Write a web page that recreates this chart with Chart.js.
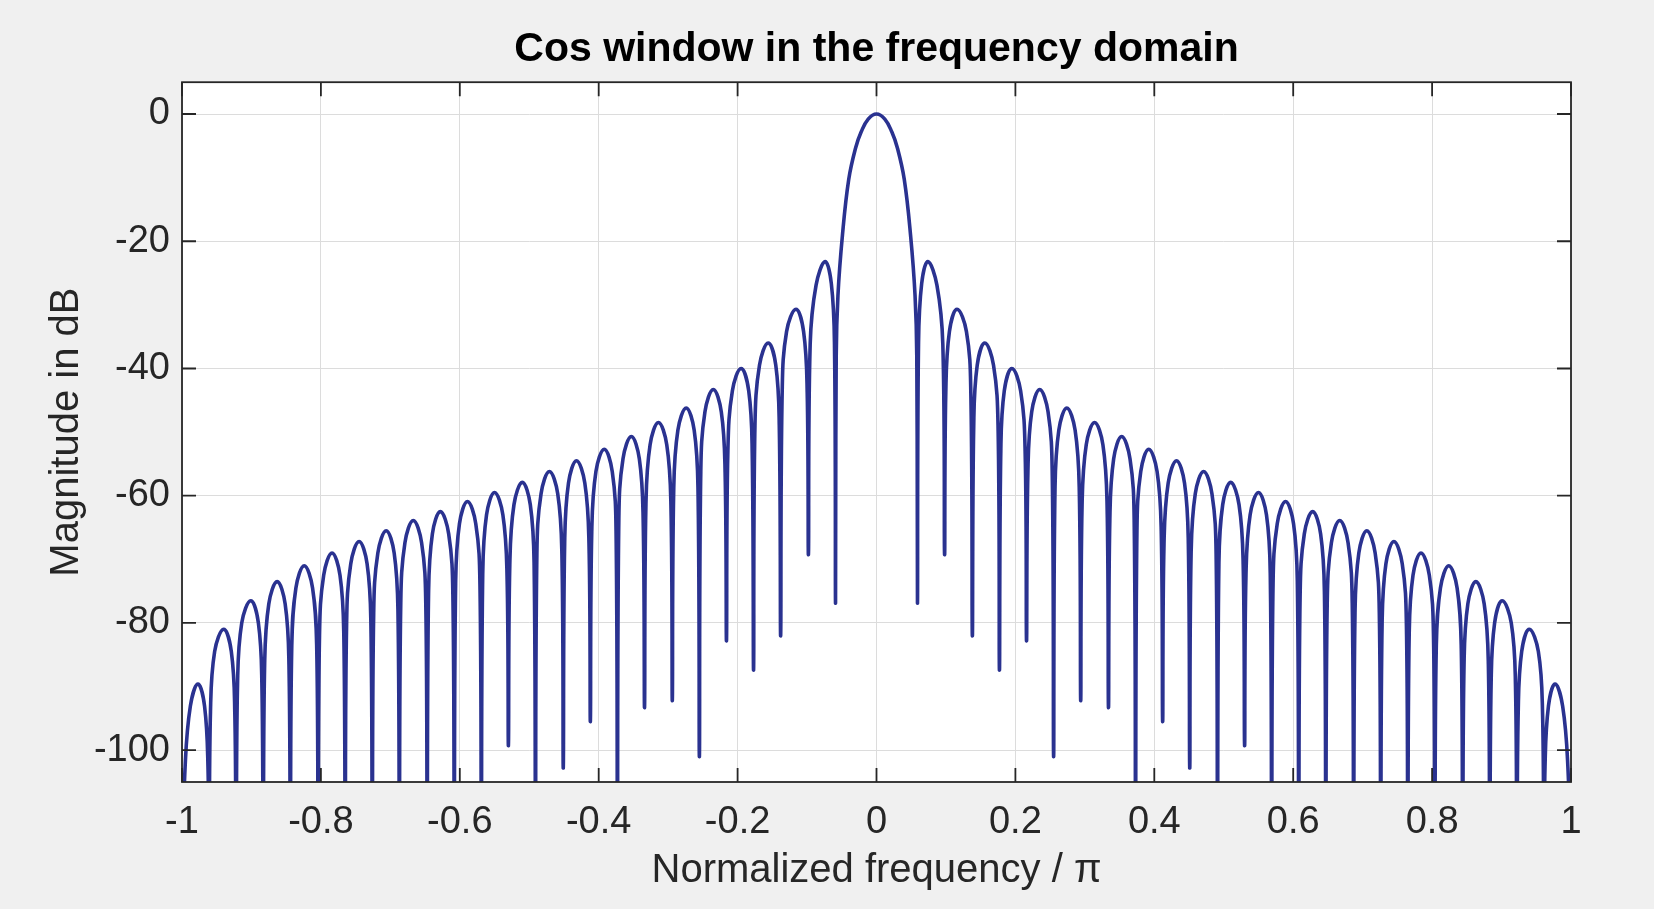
<!DOCTYPE html>
<html>
<head>
<meta charset="utf-8">
<title>Cos window in the frequency domain</title>
<script src="https://cdn.jsdelivr.net/npm/chart.js@4/dist/chart.umd.min.js"></script>
<style>
  html, body { margin: 0; padding: 0; background: #f0f0f0; }
  #wrap { width: 1654px; height: 909px; }
  canvas { display: block; }
</style>
</head>
<body>
<div id="wrap"><canvas id="chart" width="1654" height="909"></canvas></div>
<script>
// --- data (normalized frequency / pi, magnitude in dB) ---
// left half, from -1 up to the main lobe
const freqNeg = [
  -1.0, -0.9955, -0.988, -0.977, -0.9675, -0.9626,
  -0.961, -0.959, -0.953, -0.940, -0.929, -0.924,
  -0.922, -0.920, -0.914, -0.901, -0.890, -0.885,
  -0.883, -0.881, -0.875, -0.863, -0.8515, -0.846,
  -0.844, -0.842, -0.836, -0.824, -0.812, -0.806,
  -0.804, -0.802, -0.796, -0.784, -0.7725, -0.767,
  -0.765, -0.763, -0.757, -0.745, -0.7335, -0.728,
  -0.726, -0.724, -0.718, -0.706, -0.6945, -0.689,
  -0.687, -0.685, -0.679, -0.667, -0.655, -0.649,
  -0.647, -0.645, -0.6395, -0.628, -0.616, -0.610,
  -0.608, -0.606, -0.6005, -0.589, -0.577, -0.571,
  -0.569, -0.567, -0.5615, -0.550, -0.538, -0.532,
  -0.530, -0.528, -0.522, -0.510, -0.4985, -0.493,
  -0.491, -0.489, -0.483, -0.471, -0.459, -0.453,
  -0.451, -0.449, -0.4435, -0.432, -0.420, -0.414,
  -0.412, -0.410, -0.404, -0.392, -0.3805, -0.375,
  -0.373, -0.371, -0.365, -0.353, -0.3415, -0.336,
  -0.334, -0.332, -0.326, -0.314, -0.302, -0.296,
  -0.294, -0.292, -0.286, -0.274, -0.2625, -0.257,
  -0.255, -0.253, -0.247, -0.235, -0.2235, -0.218,
  -0.216, -0.214, -0.2075, -0.195, -0.184, -0.179,
  -0.177, -0.175, -0.1685, -0.156, -0.145, -0.140,
  -0.138, -0.1358, -0.1295, -0.116, -0.105, -0.0998,
  -0.098, -0.0955, -0.087, -0.074, -0.065, -0.0605,
  -0.059, -0.058, -0.0555, -0.049, -0.040, -0.030, -0.022, -0.012
];
const magNeg = [
  -120, -102.6, -93.1, -89.6, -93.1, -102.6,
  -120, -94.0, -84.5, -81.0, -84.5, -94.0,
  -120, -89.5, -80.0, -76.5, -80.0, -89.5,
  -120, -86.5, -77.0, -73.5, -77.0, -86.5,
  -120, -84.0, -74.5, -71.0, -74.5, -84.0,
  -120, -82.0, -72.5, -69.0, -72.5, -82.0,
  -120, -80.2, -70.7, -67.2, -70.7, -80.2,
  -120, -78.5, -69.0, -65.5, -69.0, -78.5,
  -120, -76.9, -67.4, -63.9, -67.4, -76.9,
  -120, -75.5, -66.0, -62.5, -66.0, -75.5,
  -120, -73.9, -64.4, -60.9, -64.4, -73.9,
  -120, -72.5, -63.0, -59.5, -63.0, -72.5,
  -99.3, -70.9, -61.4, -57.9, -61.4, -70.9,
  -120, -69.2, -59.7, -56.2, -59.7, -69.2,
  -102.8, -67.5, -58.0, -54.5, -58.0, -67.5,
  -95.5, -65.7, -56.2, -52.7, -56.2, -65.7,
  -120, -63.7, -54.2, -50.7, -54.2, -63.7,
  -93.3, -61.5, -52.0, -48.5, -52.0, -61.5,
  -92.2, -59.2, -49.7, -46.2, -49.7, -59.2,
  -101.0, -56.3, -46.8, -43.3, -46.8, -56.3,
  -82.8, -53.0, -43.5, -40.0, -43.5, -53.0,
  -87.4, -49.0, -39.5, -36.0, -39.5, -49.0,
  -82.0, -43.7, -34.2, -30.7, -34.2, -43.7,
  -69.2, -36.2, -26.9, -23.2, -26.7, -36.2,
  -76.9, -38.0, -28.5, -19.0, -10.3, -5.3, -2.8, -0.8
];
// right half, from the main lobe peak out to +1
const freqPos = [
  0.0, 0.012, 0.022, 0.030, 0.040, 0.049, 0.0555, 0.058,
  0.059, 0.0605, 0.065, 0.074, 0.087, 0.0955,
  0.098, 0.0998, 0.105, 0.116, 0.1295, 0.1358,
  0.138, 0.140, 0.145, 0.156, 0.1685, 0.175,
  0.177, 0.179, 0.184, 0.195, 0.2075, 0.214,
  0.216, 0.218, 0.2235, 0.235, 0.247, 0.253,
  0.255, 0.257, 0.2625, 0.274, 0.286, 0.292,
  0.294, 0.296, 0.302, 0.314, 0.326, 0.332,
  0.334, 0.336, 0.3415, 0.353, 0.365, 0.371,
  0.373, 0.375, 0.3805, 0.392, 0.404, 0.410,
  0.412, 0.414, 0.420, 0.432, 0.4435, 0.449,
  0.451, 0.453, 0.459, 0.471, 0.483, 0.489,
  0.491, 0.493, 0.4985, 0.510, 0.522, 0.528,
  0.530, 0.532, 0.538, 0.550, 0.5615, 0.567,
  0.569, 0.571, 0.577, 0.589, 0.6005, 0.606,
  0.608, 0.610, 0.616, 0.628, 0.6395, 0.645,
  0.647, 0.649, 0.655, 0.667, 0.679, 0.685,
  0.687, 0.689, 0.6945, 0.706, 0.718, 0.724,
  0.726, 0.728, 0.7335, 0.745, 0.757, 0.763,
  0.765, 0.767, 0.7725, 0.784, 0.796, 0.802,
  0.804, 0.806, 0.812, 0.824, 0.836, 0.842,
  0.844, 0.846, 0.8515, 0.863, 0.875, 0.881,
  0.883, 0.885, 0.890, 0.901, 0.914, 0.920,
  0.922, 0.924, 0.929, 0.940, 0.953, 0.959,
  0.961, 0.9626, 0.9675, 0.977, 0.988, 0.9955,
  1.0
];
const magPos = [
  0.0, -0.8, -2.8, -5.3, -10.3, -19.0, -28.5, -38.0,
  -76.9, -36.2, -26.7, -23.2, -26.9, -36.2,
  -69.2, -43.7, -34.2, -30.7, -34.2, -43.7,
  -82.0, -49.0, -39.5, -36.0, -39.5, -49.0,
  -87.4, -53.0, -43.5, -40.0, -43.5, -53.0,
  -82.8, -56.3, -46.8, -43.3, -46.8, -56.3,
  -101.0, -59.2, -49.7, -46.2, -49.7, -59.2,
  -92.2, -61.5, -52.0, -48.5, -52.0, -61.5,
  -93.3, -63.7, -54.2, -50.7, -54.2, -63.7,
  -120, -65.7, -56.2, -52.7, -56.2, -65.7,
  -95.5, -67.5, -58.0, -54.5, -58.0, -67.5,
  -102.8, -69.2, -59.7, -56.2, -59.7, -69.2,
  -120, -70.9, -61.4, -57.9, -61.4, -70.9,
  -99.3, -72.5, -63.0, -59.5, -63.0, -72.5,
  -120, -73.9, -64.4, -60.9, -64.4, -73.9,
  -120, -75.5, -66.0, -62.5, -66.0, -75.5,
  -120, -76.9, -67.4, -63.9, -67.4, -76.9,
  -120, -78.5, -69.0, -65.5, -69.0, -78.5,
  -120, -80.2, -70.7, -67.2, -70.7, -80.2,
  -120, -82.0, -72.5, -69.0, -72.5, -82.0,
  -120, -84.0, -74.5, -71.0, -74.5, -84.0,
  -120, -86.5, -77.0, -73.5, -77.0, -86.5,
  -120, -89.5, -80.0, -76.5, -80.0, -89.5,
  -120, -94.0, -84.5, -81.0, -84.5, -94.0,
  -120, -102.6, -93.1, -89.6, -93.1, -102.6,
  -120
];

const xTickValues = [-1, -0.8, -0.6, -0.4, -0.2, 0, 0.2, 0.4, 0.6, 0.8, 1];
const xTickLabels = ['-1', '-0.8', '-0.6', '-0.4', '-0.2', '0', '0.2', '0.4', '0.6', '0.8', '1'];
const yTickValues = [-100, -80, -60, -40, -20, 0];
const yTickLabels = ['-100', '-80', '-60', '-40', '-20', '0'];

// --- styling ---
const FONT = "'Liberation Sans', Arial, Helvetica, sans-serif";
const TEXT_COLOR = '#262626';
const LINE_COLOR = '#2a3290';
const TICK_LEN = 14;

const magAll = magNeg.concat(magPos);
const points = freqNeg.concat(freqPos).map((f, i) => ({ x: f, y: magAll[i] }));

// white axes box, dark frame and inward ticks (MATLAB look)
const framePlugin = {
  id: 'frame',
  beforeDraw(chart) {
    const { ctx, chartArea: a } = chart;
    ctx.save();
    ctx.fillStyle = '#ffffff';
    ctx.fillRect(a.left, a.top, a.right - a.left, a.bottom - a.top);
    ctx.restore();
  },
  afterDraw(chart) {
    const { ctx, chartArea: a, scales } = chart;
    ctx.save();
    ctx.strokeStyle = TEXT_COLOR;
    ctx.lineWidth = 1.8;
    ctx.beginPath();
    xTickValues.forEach(v => {
      const px = scales.x.getPixelForValue(v);
      ctx.moveTo(px, a.bottom); ctx.lineTo(px, a.bottom - TICK_LEN);
      ctx.moveTo(px, a.top); ctx.lineTo(px, a.top + TICK_LEN);
    });
    yTickValues.forEach(v => {
      const py = scales.y.getPixelForValue(v);
      ctx.moveTo(a.left, py); ctx.lineTo(a.left + TICK_LEN, py);
      ctx.moveTo(a.right, py); ctx.lineTo(a.right - TICK_LEN, py);
    });
    ctx.stroke();
    ctx.strokeRect(a.left, a.top, a.right - a.left, a.bottom - a.top);
    ctx.restore();
  }
};

new Chart(document.getElementById('chart'), {
  type: 'line',
  data: {
    datasets: [{
      data: points,
      borderColor: LINE_COLOR,
      borderWidth: 3.6,
      borderJoinStyle: 'round',
      pointRadius: 0,
      tension: 0.4,
      clip: 0
    }]
  },
  options: {
    responsive: false,
    animation: false,
    events: [],
    layout: { padding: { left: 0, right: 83, top: 0, bottom: 0 } },
    plugins: {
      legend: { display: false },
      tooltip: { enabled: false },
      title: {
        display: true,
        fullSize: false,
        text: 'Cos window in the frequency domain',
        color: '#000000',
        font: { family: FONT, size: 41, weight: 'bold' },
        padding: { top: 25, bottom: 8 }
      }
    },
    scales: {
      x: {
        type: 'linear',
        min: -1,
        max: 1,
        afterBuildTicks: s => { s.ticks = xTickValues.map(v => ({ value: v })); },
        afterFit: s => { s.height = 127; },
        ticks: {
          autoSkip: false,
          maxRotation: 0,
          padding: 18,
          color: TEXT_COLOR,
          font: { family: FONT, size: 38 },
          callback: (v, i) => xTickLabels[i]
        },
        grid: { color: '#dcdcdc', lineWidth: 1, drawTicks: false },
        border: { display: false },
        title: {
          display: true,
          text: 'Normalized frequency / π',
          color: TEXT_COLOR,
          font: { family: FONT, size: 40 },
          padding: { top: 0, bottom: 14 }
        }
      },
      y: {
        type: 'linear',
        min: -105,
        max: 5,
        afterBuildTicks: s => { s.ticks = yTickValues.map(v => ({ value: v })); },
        afterFit: s => { s.width = 182; },
        ticks: {
          padding: 12,
          color: TEXT_COLOR,
          font: { family: FONT, size: 38 },
          callback: (v, i) => yTickLabels[i]
        },
        grid: { color: '#dcdcdc', lineWidth: 1, drawTicks: false },
        border: { display: false },
        title: {
          display: true,
          text: 'Magnitude in dB',
          color: TEXT_COLOR,
          font: { family: FONT, size: 40 },
          padding: { top: 43, bottom: 0 }
        }
      }
    }
  },
  plugins: [framePlugin]
});
</script>
</body>
</html>
